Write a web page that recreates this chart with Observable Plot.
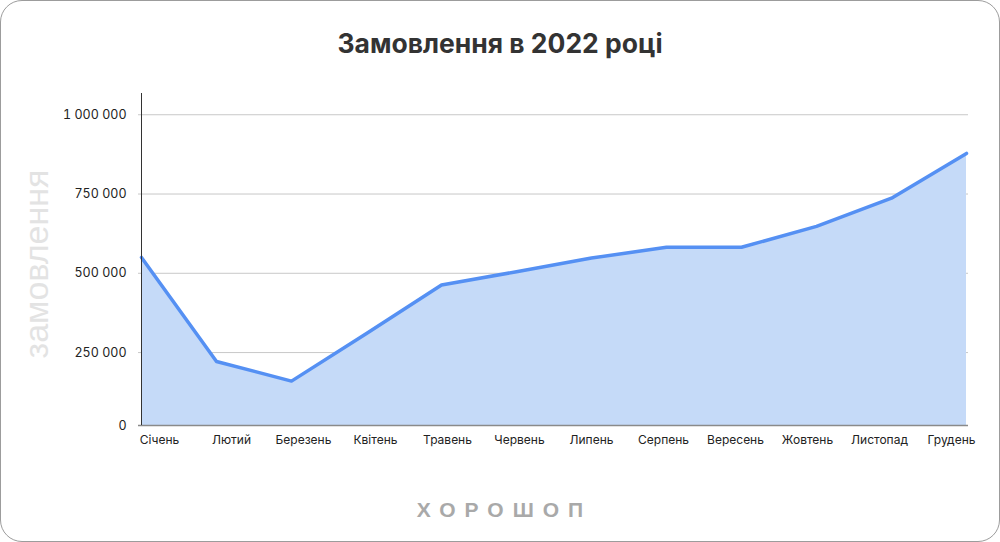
<!DOCTYPE html>
<html><head><meta charset="utf-8">
<script src="https://cdn.jsdelivr.net/npm/d3@7"></script>
<script src="https://cdn.jsdelivr.net/npm/@observablehq/plot@0.6"></script>
<style>
html,body{margin:0;padding:0;background:#fff;}
#wrap{position:relative;width:1000px;height:542px;overflow:hidden;font-family:Inter,Roboto,"Liberation Sans",sans-serif;}
#frame{position:absolute;left:0;top:0;width:1000px;height:542px;box-sizing:border-box;border:1.5px solid #9c9c9c;border-radius:22px;pointer-events:none;}
#title{position:absolute;top:30px;left:0;width:1000px;text-align:center;font-family:Inter,Roboto,sans-serif;font-size:26.5px;line-height:26px;font-weight:700;color:#333;}
#ylab{position:absolute;left:36px;top:264px;transform:translate(-50%,-50%) rotate(-90deg);font-family:"Liberation Sans",sans-serif;font-size:34px;line-height:34px;color:#e3e3e3;white-space:nowrap;}
#logo{position:absolute;top:499px;left:0;width:1000px;text-align:center;font-family:"Liberation Sans",sans-serif;font-size:21px;line-height:21px;font-weight:700;letter-spacing:9px;color:#a9a9a9;padding-left:9px;box-sizing:border-box;}
.layer{position:absolute;left:0;top:0;}
</style>
</head><body>
<div id="wrap">
  <div id="title"></div>
  <div id="ylab"></div>
  <div id="logo"></div>
  <div id="main" class="layer"></div>
  <div id="xlab" class="layer"></div>
  <div id="frame"></div>
</div>
<script>
const titleText = "Замовлення в 2022 році";
const yLabel = "замовлення";
const logoText = "ХОРОШОП";
const months = ["Січень","Лютий","Березень","Квітень","Травень","Червень","Липень","Серпень","Вересень","Жовтень","Листопад","Грудень"];
const orders = [550000, 222000, 160000, 310000, 463000, 505000, 548000, 582000, 582000, 648000, 737000, 878000];
const yTicks = [0, 250000, 500000, 750000, 1000000];

document.getElementById("title").textContent = titleText;
document.getElementById("ylab").textContent = yLabel;
document.getElementById("logo").textContent = logoText;

const data = months.map((m, i) => ({month: m, value: orders[i]}));
const fmt = d3.formatLocale({thousands: "\u00a0", grouping: [3], decimal: ","}).format(",");
const font = "Inter, Roboto, 'Liberation Sans', sans-serif";

const main = Plot.plot({
  width: 1000,
  height: 542,
  marginLeft: 138,
  marginRight: 32,
  marginTop: 93,
  marginBottom: 117,
  style: {background: "transparent", fontFamily: font, fontSize: "12.5px", color: "#222"},
  x: {type: "point", domain: months, padding: 0, axis: null},
  y: {domain: [20000, 1067000], clamp: true, axis: null},
  marks: [
    Plot.ruleY(yTicks.filter(d => d > 0), {stroke: "#c8c8c8", strokeWidth: 1}),
    Plot.areaY(data, {x: "month", y: "value", fill: "#c5daf8", curve: "linear"}),
    Plot.ruleY([0], {stroke: "#8a8a8a", strokeWidth: 1.5}),
    Plot.lineY(data, {x: "month", y: "value", stroke: "#5590f3", strokeWidth: 3.5, strokeLinejoin: "round", strokeLinecap: "round"}),
    Plot.ruleX([months[0]], {stroke: "#333", strokeWidth: 1}),
    Plot.axisY(yTicks, {anchor: "left", label: null, tickSize: 0, tickPadding: 12, tickFormat: fmt, fontSize: 12.5, fill: "#222"})
  ]
});
document.getElementById("main").appendChild(main);

const xl = Plot.plot({
  width: 1000,
  height: 542,
  marginLeft: 154.5,
  marginRight: 45,
  marginTop: 93,
  marginBottom: 117,
  style: {background: "transparent", fontFamily: font, fontSize: "12px", color: "#222"},
  x: {type: "point", domain: months, padding: 0},
  y: {domain: [0, 1], axis: null},
  marks: [
    Plot.axisX({anchor: "bottom", tickSize: 0, tickPadding: 10, fontSize: 12, fill: "#222", label: null})
  ]
});
document.getElementById("xlab").appendChild(xl);
</script>
</body></html>
